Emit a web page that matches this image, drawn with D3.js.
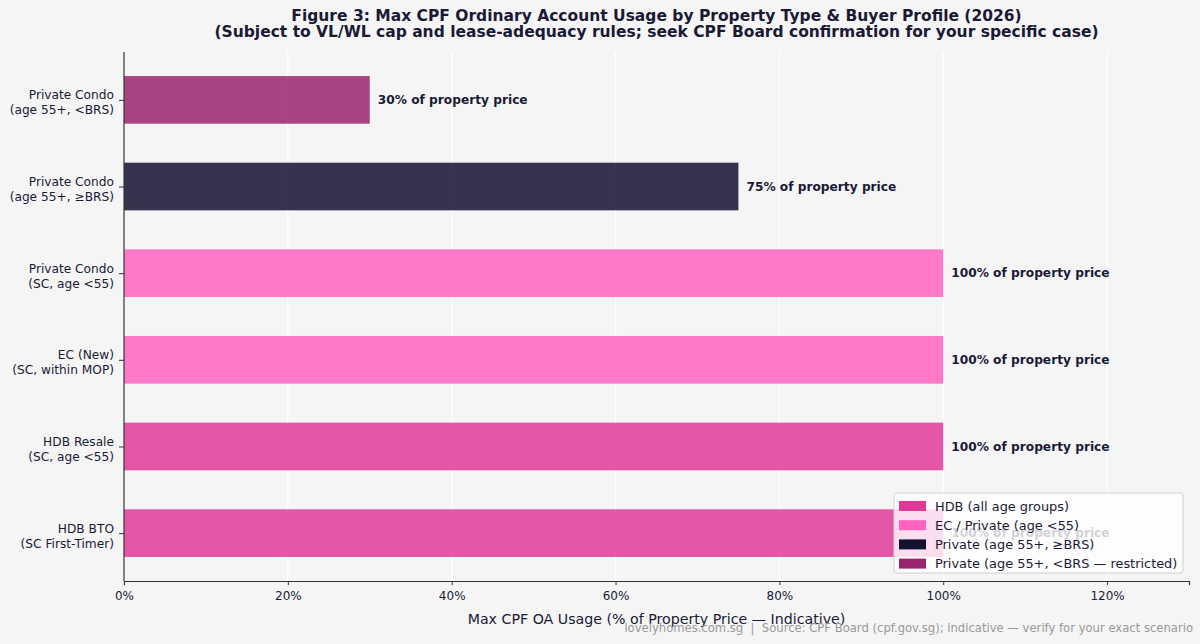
<!DOCTYPE html>
<html>
<head>
<meta charset="utf-8">
<script src="https://cdn.jsdelivr.net/npm/d3@7"></script>
<style>
  body { margin: 0; background: #f5f5f5; }
  svg { display: block; font-family: "DejaVu Sans", sans-serif; }
  .pre { white-space: pre; }
</style>
</head>
<body>
<svg id="chart" width="1200" height="644"></svg>
<script>
// categories bottom -> top (as drawn by matplotlib barh)
const categories = [
  ["HDB BTO", "(SC First-Timer)"],
  ["HDB Resale", "(SC, age <55)"],
  ["EC (New)", "(SC, within MOP)"],
  ["Private Condo", "(SC, age <55)"],
  ["Private Condo", "(age 55+, \u2265BRS)"],
  ["Private Condo", "(age 55+, <BRS)"]
];
const usage = [100, 100, 100, 100, 75, 30];
const groups = ["hdb", "hdb", "priv", "priv", "brs", "restricted"];
const xTicks = [0, 20, 40, 60, 80, 100, 120];

const legendItems = [
  {key: "hdb", name: "HDB (all age groups)"},
  {key: "priv", name: "EC / Private (age <55)"},
  {key: "brs", name: "Private (age 55+, \u2265BRS)"},
  {key: "restricted", name: "Private (age 55+, <BRS \u2014 restricted)"}
];
const colors = {hdb: "#e0399a", priv: "#ff63be", brs: "#141030", restricted: "#9a256f"};

const TEXT = "#1a1a35";
const margin = {left: 124, right: 11, top: 52, bottom: 63};
const W = 1200, H = 644;
const svg = d3.select("#chart");

const x = d3.scaleLinear().domain([0, 130]).range([margin.left, W - margin.right]);
// matplotlib barh: height 0.55, 5% margins
const y = d3.scaleLinear().domain([-0.5525, 5.5525]).range([H - margin.bottom, margin.top]);
const barH = y(0) - y(0.55);

// grid
svg.append("g").selectAll("line")
  .data(xTicks)
  .enter().append("line")
  .attr("x1", d => x(d)).attr("x2", d => x(d))
  .attr("y1", margin.top).attr("y2", H - margin.bottom)
  .attr("stroke", "#ffffff").attr("stroke-width", 1.2);

// bars
svg.append("g").selectAll("rect")
  .data(usage)
  .enter().append("rect")
  .attr("x", x(0))
  .attr("y", (d, i) => y(i) - barH / 2)
  .attr("width", d => x(d) - x(0))
  .attr("height", barH)
  .attr("fill", (d, i) => colors[groups[i]])
  .attr("fill-opacity", 0.85);

// value labels
svg.append("g").selectAll("text")
  .data(usage)
  .enter().append("text")
  .attr("x", d => x(d) + 8)
  .attr("y", (d, i) => y(i))
  .attr("dy", "0.35em")
  .attr("font-size", 12.2)
  .attr("font-weight", "bold")
  .attr("fill", TEXT)
  .text(d => d + "% of property price");

// x axis
const xAxis = d3.axisBottom(x).tickValues(xTicks).tickFormat(d => d + "%").tickSize(4).tickPadding(6);
svg.append("g")
  .attr("transform", "translate(0," + (H - margin.bottom) + ")")
  .call(xAxis)
  .call(g => g.select(".domain").attr("stroke", "#333").attr("stroke-width", 1.2))
  .call(g => g.selectAll(".tick line").attr("stroke", "#333"))
  .call(g => g.selectAll(".tick text").attr("font-size", 12).attr("fill", TEXT)
    .attr("font-family", "DejaVu Sans"));

// y axis
const yAxis = d3.axisLeft(y).tickValues(d3.range(categories.length)).tickFormat("").tickSize(5);
const yG = svg.append("g")
  .attr("transform", "translate(" + margin.left + ",0)")
  .call(yAxis)
  .call(g => g.select(".domain").attr("d", "M0," + margin.top + "V" + (H - margin.bottom))
    .attr("stroke", "#333").attr("stroke-width", 1.2))
  .call(g => g.selectAll(".tick line").attr("stroke", "#333"));

yG.selectAll(".tick").each(function(d) {
  const t = d3.select(this).append("text")
    .attr("x", -10)
    .attr("text-anchor", "end")
    .attr("font-size", 12.2)
    .attr("font-family", "DejaVu Sans")
    .attr("fill", TEXT);
  t.append("tspan").attr("x", -10).attr("y", -1).text(categories[d][0]);
  t.append("tspan").attr("x", -10).attr("y", 14).text(categories[d][1]);
});

// title
const cx = (margin.left + W - margin.right) / 2;
svg.append("text")
  .attr("x", cx).attr("y", 21)
  .attr("text-anchor", "middle").attr("font-size", 15.5).attr("font-weight", "bold").attr("fill", TEXT)
  .text("Figure 3: Max CPF Ordinary Account Usage by Property Type & Buyer Profile (2026)");
svg.append("text")
  .attr("x", cx).attr("y", 37)
  .attr("text-anchor", "middle").attr("font-size", 15.5).attr("font-weight", "bold").attr("fill", TEXT)
  .text("(Subject to VL/WL cap and lease-adequacy rules; seek CPF Board confirmation for your specific case)");

// x label
svg.append("text")
  .attr("x", cx).attr("y", 624)
  .attr("text-anchor", "middle").attr("font-size", 14.2).attr("fill", TEXT)
  .text("Max CPF OA Usage (% of Property Price \u2014 Indicative)");

// footer
svg.append("text")
  .attr("class", "pre")
  .attr("x", W - 7).attr("y", 632)
  .attr("text-anchor", "end").attr("font-size", 11.6).attr("fill", "#999")
  .text("lovelyhomes.com.sg  |  Source: CPF Board (cpf.gov.sg); indicative \u2014 verify for your exact scenario");

// legend
const lg = svg.append("g").attr("transform", "translate(894,493)");
lg.append("rect")
  .attr("width", 289).attr("height", 80).attr("rx", 3)
  .attr("fill", "#ffffff").attr("fill-opacity", 0.8)
  .attr("stroke", "#d0d0d0");
const li = lg.selectAll("g.item")
  .data(legendItems)
  .enter().append("g").attr("class", "item")
  .attr("transform", (d, i) => "translate(5," + (5 + i * 19.2) + ")");
li.append("rect")
  .attr("width", 27).attr("height", 10).attr("y", 3)
  .attr("fill", d => colors[d.key]);
li.append("text")
  .attr("x", 36).attr("y", 8).attr("dy", "0.35em")
  .attr("font-size", 12.9).attr("fill", TEXT)
  .text(d => d.name);
</script>
</body>
</html>
